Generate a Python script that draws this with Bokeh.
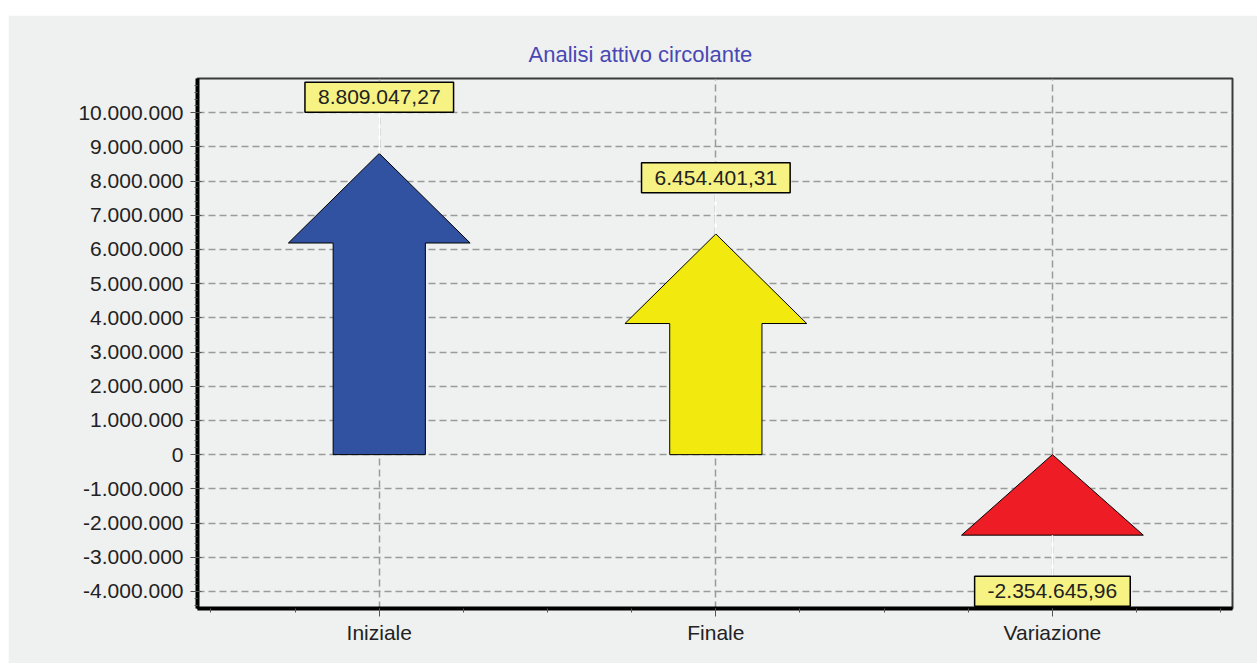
from bokeh.plotting import figure
from bokeh.models import FixedTicker, Label, Spacer
from bokeh.layouts import column, row
from bokeh.embed import file_html
from bokeh.resources import INLINE

# ---------------- data ----------------
title_text = "Analisi attivo circolante"
categories = ["Iniziale", "Finale", "Variazione"]
values = [8809047.27, 6454401.31, -2354645.96]
value_labels = ["8.809.047,27", "6.454.401,31", "-2.354.645,96"]
arrow_colors = ["#3151a1", "#f2e90f", "#ee1c24"]
y_tick_values = [-4e6, -3e6, -2e6, -1e6, 0, 1e6, 2e6, 3e6, 4e6, 5e6,
                 6e6, 7e6, 8e6, 9e6, 10e6]
y_tick_labels = ["-4.000.000", "-3.000.000", "-2.000.000", "-1.000.000", "0",
                 "1.000.000", "2.000.000", "3.000.000", "4.000.000", "5.000.000",
                 "6.000.000", "7.000.000", "8.000.000", "9.000.000", "10.000.000"]

# ---------------- style constants ----------------
FONT = "Liberation Sans"
BG = "#eff0f0"
HEAD_HALF = 0.27      # half width of arrow head (x units)
SHAFT_HALF = 0.137    # half width of arrow shaft (x units)
HEAD_H = 2.62e6       # arrow head height (y units)
LABEL_OFF = 1.64e6    # label distance from arrow end (y units)

x_pos = list(range(1, len(categories) + 1))

p = figure(width=1249, height=648, x_range=(0.46, 3.535), y_range=(-4.5e6, 11e6),
           output_backend="svg", toolbar_location=None,
           min_border_left=189, min_border_right=25, min_border_top=63,
           min_border_bottom=55)
p.background_fill_color = BG
p.border_fill_color = BG
p.outline_line_color = "#3a3a3a"
p.outline_line_width = 2

# title
p.title.text = title_text
p.title.align = "left"
p.title.text_font = FONT
p.title.text_font_size = "22px"
p.title.text_font_style = "normal"
p.title.text_color = "#4848b4"
p.title.offset = 331
p.title.standoff = 23

# grids
for g in (p.xgrid, p.ygrid):
    g.grid_line_color = "#9a9a9a"
    g.grid_line_dash = "7 4"
    g.grid_line_width = 1.5

# x axis
minor_x = [0.5 + 0.25 * i for i in range(13)]
p.xaxis.ticker = FixedTicker(ticks=x_pos, minor_ticks=minor_x)
p.xaxis.major_label_overrides = {x: c for x, c in zip(x_pos, categories)}
p.xaxis.axis_line_width = 4
p.xaxis.axis_line_color = "black"
p.xaxis.major_tick_out = 8
p.xaxis.major_tick_in = 0
p.xaxis.minor_tick_out = 4
p.xaxis.minor_tick_in = 0
p.xaxis.major_tick_line_color = "#555"
p.xaxis.minor_tick_line_color = "#555"
p.xaxis.major_label_standoff = 4
p.xaxis.major_label_text_font = FONT
p.xaxis.major_label_text_font_size = "21px"
p.xaxis.major_label_text_color = "#222"

# y axis
minor_y = [-4.4e6 + 2e5 * i for i in range(77)]
p.yaxis.ticker = FixedTicker(ticks=y_tick_values, minor_ticks=minor_y)
p.yaxis.major_label_overrides = {v: s for v, s in zip(y_tick_values, y_tick_labels)}
p.yaxis.axis_line_width = 4
p.yaxis.axis_line_color = "black"
p.yaxis.major_tick_out = 7
p.yaxis.major_tick_in = 4
p.yaxis.minor_tick_out = 3
p.yaxis.minor_tick_in = 0
p.yaxis.major_tick_line_color = "#555"
p.yaxis.minor_tick_line_color = "#555"
p.yaxis.major_label_standoff = 7
p.yaxis.major_label_text_font = FONT
p.yaxis.major_label_text_font_size = "21px"
p.yaxis.major_label_text_color = "#222"

# arrows
xs, ys = [], []
for c, v in zip(x_pos, values):
    low, high = min(0, v), max(0, v)
    hh = min(HEAD_H, high - low)
    base = high - hh
    if base > low:
        xs.append([c - SHAFT_HALF, c - SHAFT_HALF, c - HEAD_HALF, c,
                   c + HEAD_HALF, c + SHAFT_HALF, c + SHAFT_HALF])
        ys.append([low, base, base, high, base, base, low])
    else:
        xs.append([c - HEAD_HALF, c, c + HEAD_HALF])
        ys.append([low, high, low])
p.patches(xs, ys, fill_color=arrow_colors, line_color="black", line_width=1)

# leader lines and value labels
for c, v, s in zip(x_pos, values, value_labels):
    sign = 1 if v >= 0 else -1
    ly = v + sign * LABEL_OFF
    p.segment(x0=[c], y0=[v], x1=[c], y1=[ly], line_color="white", line_width=1.5)
    p.add_layout(Label(x=c, y=ly, text=s, text_align="center", text_baseline="middle",
                       text_font=FONT, text_font_size="21px", text_color="#222",
                       background_fill_color="#f6f283", border_line_color="black",
                       border_line_width=1.5,
                       padding=dict(left=13, right=13, top=8, bottom=8)))

layout = column(Spacer(width=1257, height=15), row(Spacer(width=8, height=648), p))
open("out.html", "w").write(file_html(layout, INLINE))
